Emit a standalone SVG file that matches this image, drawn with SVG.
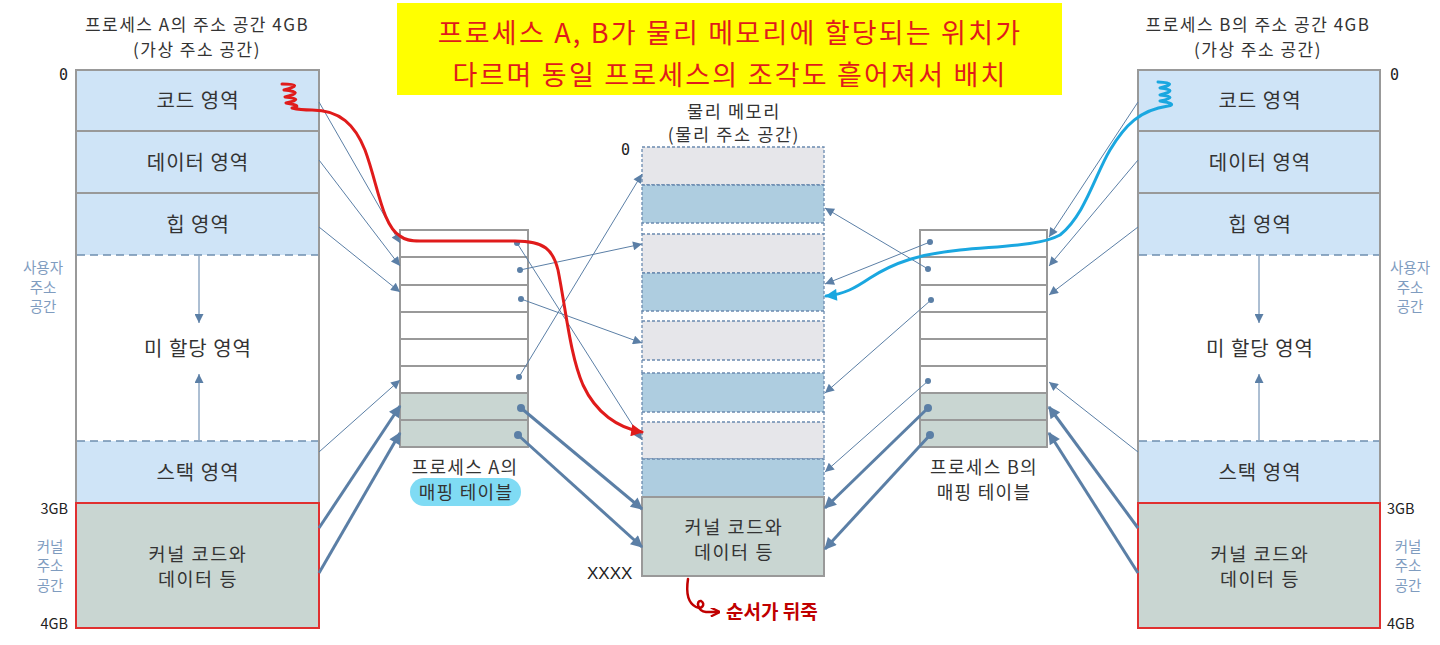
<svg xmlns="http://www.w3.org/2000/svg" width="1440" height="645" viewBox="0 0 1440 645">
<defs>
<style>
text{font-family:"Noto Sans CJK KR","Noto Sans",sans-serif;fill:#333}
.lbl{font-size:20px;letter-spacing:1px;text-anchor:middle}
.k{font-size:18.5px;letter-spacing:1.6px;text-anchor:middle}
.hdr{font-size:17px;letter-spacing:1.5px;text-anchor:middle}
.tbl{font-size:18px;letter-spacing:1.3px;text-anchor:middle}
.pml{font-size:17.5px;letter-spacing:1.6px;text-anchor:middle}
.side{font-size:14.5px;fill:#7f9cbf;text-anchor:middle}
.gb{font-size:14.5px;fill:#222}
.mono{font-family:"DejaVu Sans Mono","Liberation Mono",monospace;font-size:15px;fill:#222}
.title{font-size:27px;letter-spacing:2.2px;fill:#e01b1b;text-anchor:middle}
.col{stroke:#999;stroke-width:2}
.ua{fill:#cfe4f7}
.kern{fill:#c9d6d2}
.dash{stroke:#6f8fb0;stroke-width:1.5;stroke-dasharray:8 5}
.pm{stroke:#6b8bb0;stroke-width:1.3;stroke-dasharray:3 2}
.pg{fill:#e6e6ea}
.pb{fill:#aecde0}
.thin{stroke:#5b7fa6;stroke-width:1;fill:none}
.thick{stroke:#5b7fa6;stroke-width:3;fill:none}
.dot{fill:#5b7fa6}
</style>
<marker id="ah" viewBox="0 0 10 10" refX="10" refY="5" markerWidth="12" markerHeight="9" markerUnits="userSpaceOnUse" orient="auto"><path d="M0,0 L10,5 L0,10 z" fill="#5b7fa6"/></marker>
<marker id="ahT" viewBox="0 0 10 10" refX="9" refY="5" markerWidth="15" markerHeight="12" markerUnits="userSpaceOnUse" orient="auto"><path d="M0,0 L10,5 L0,10 z" fill="#5b7fa6"/></marker>
<marker id="ahR" viewBox="0 0 10 10" refX="9" refY="5" markerWidth="16" markerHeight="12" markerUnits="userSpaceOnUse" orient="auto"><path d="M0,0 L10,5 L0,10 z" fill="#e01b1b"/></marker>
<marker id="ahB" viewBox="0 0 10 10" refX="9" refY="5" markerWidth="16" markerHeight="12" markerUnits="userSpaceOnUse" orient="auto"><path d="M0,0 L10,5 L0,10 z" fill="#1aa7e0"/></marker>
<marker id="ahD" viewBox="0 0 10 10" refX="8" refY="5" markerWidth="10" markerHeight="9" markerUnits="userSpaceOnUse" orient="auto"><path d="M0,0 L10,5 L0,10" fill="none" stroke="#c00000" stroke-width="2.5"/></marker>
</defs>
<rect width="1440" height="645" fill="#fff"/>

<g id="title">
<rect x="397" y="3" width="665" height="92" fill="#ffff00"/>
<text class="title" x="730" y="43">프로세스 A, B가 물리 메모리에 할당되는 위치가</text>
<text class="title" x="730" y="85">다르며 동일 프로세스의 조각도 흩어져서 배치</text>
</g>

<g id="processA">
<text class="hdr" x="197" y="31">프로세스 A의 주소 공간 4GB</text>
<text class="hdr" x="197" y="56">(가상 주소 공간)</text>
<text class="mono" x="59" y="80">0</text>
<rect class="ua" x="76" y="70" width="243" height="185"/>
<rect fill="#fff" x="76" y="255" width="243" height="186"/>
<rect class="ua" x="76" y="441" width="243" height="62"/>
<rect class="col" x="76" y="70" width="243" height="433" fill="none"/>
<line class="col" x1="76" y1="131" x2="319" y2="131"/>
<line class="col" x1="76" y1="193" x2="319" y2="193"/>
<line class="dash" x1="77" y1="255" x2="318" y2="255"/>
<line class="dash" x1="77" y1="441" x2="318" y2="441"/>
<rect class="kern" x="76" y="503" width="243" height="125" stroke="#e03030" stroke-width="2"/>
<line class="thin" x1="199" y1="256" x2="199" y2="323" stroke-width="1.5" marker-end="url(#ah)"/>
<line class="thin" x1="199" y1="440" x2="199" y2="374" stroke-width="1.5" marker-end="url(#ah)"/>
<text class="lbl" x="198" y="108">코드 영역</text>
<text class="lbl" x="198" y="170">데이터 영역</text>
<text class="lbl" x="198" y="232">힙 영역</text>
<text class="lbl" x="198" y="356">미 할당 영역</text>
<text class="lbl" x="198" y="480">스택 영역</text>
<text class="k" x="198" y="561">커널 코드와</text>
<text class="k" x="198" y="586">데이터 등</text>
<text class="side" x="43" y="273">사용자</text>
<text class="side" x="43" y="293">주소</text>
<text class="side" x="43" y="312">공간</text>
<text class="gb" x="68" y="514" text-anchor="end">3GB</text>
<text class="side" x="50" y="552">커널</text>
<text class="side" x="50" y="571">주소</text>
<text class="side" x="50" y="591">공간</text>
<text class="gb" x="68" y="629" text-anchor="end">4GB</text>
</g>

<g id="processB">
<text class="hdr" x="1258" y="31">프로세스 B의 주소 공간 4GB</text>
<text class="hdr" x="1258" y="56">(가상 주소 공간)</text>
<text class="mono" x="1390" y="80">0</text>
<rect class="ua" x="1138" y="70" width="242" height="185"/>
<rect fill="#fff" x="1138" y="255" width="242" height="186"/>
<rect class="ua" x="1138" y="441" width="242" height="62"/>
<rect class="col" x="1138" y="70" width="242" height="433" fill="none"/>
<line class="col" x1="1138" y1="131" x2="1380" y2="131"/>
<line class="col" x1="1138" y1="193" x2="1380" y2="193"/>
<line class="dash" x1="1139" y1="255" x2="1379" y2="255"/>
<line class="dash" x1="1139" y1="441" x2="1379" y2="441"/>
<rect class="kern" x="1138" y="503" width="242" height="125" stroke="#e03030" stroke-width="2"/>
<line class="thin" x1="1259" y1="256" x2="1259" y2="323" stroke-width="1.5" marker-end="url(#ah)"/>
<line class="thin" x1="1259" y1="440" x2="1259" y2="374" stroke-width="1.5" marker-end="url(#ah)"/>
<text class="lbl" x="1260" y="108">코드 영역</text>
<text class="lbl" x="1260" y="170">데이터 영역</text>
<text class="lbl" x="1260" y="232">힙 영역</text>
<text class="lbl" x="1260" y="356">미 할당 영역</text>
<text class="lbl" x="1260" y="480">스택 영역</text>
<text class="k" x="1260" y="561">커널 코드와</text>
<text class="k" x="1260" y="586">데이터 등</text>
<text class="side" x="1410" y="273">사용자</text>
<text class="side" x="1410" y="293">주소</text>
<text class="side" x="1410" y="312">공간</text>
<text class="gb" x="1387" y="514">3GB</text>
<text class="side" x="1408" y="552">커널</text>
<text class="side" x="1408" y="571">주소</text>
<text class="side" x="1408" y="591">공간</text>
<text class="gb" x="1387" y="629">4GB</text>
</g>

<g id="tableA">
<rect x="400" y="230" width="128" height="163" fill="#fff"/>
<rect class="kern" x="400" y="393" width="128" height="54"/>
<rect class="col" x="400" y="230" width="128" height="217" fill="none"/>
<path class="col" d="M400,257H528M400,285H528M400,312H528M400,339H528M400,366H528M400,393H528M400,420H528"/>
<text class="tbl" x="465" y="474">프로세스 A의</text>
<rect x="410" y="478" width="111" height="28" rx="14" fill="#7fdbf4"/>
<text class="tbl" x="466" y="499">매핑 테이블</text>
</g>

<g id="tableB">
<rect x="920" y="230" width="127" height="163" fill="#fff"/>
<rect class="kern" x="920" y="393" width="127" height="54"/>
<rect class="col" x="920" y="230" width="127" height="217" fill="none"/>
<path class="col" d="M920,257H1047M920,285H1047M920,312H1047M920,339H1047M920,366H1047M920,393H1047M920,420H1047"/>
<text class="tbl" x="984" y="474">프로세스 B의</text>
<text class="tbl" x="984" y="499">매핑 테이블</text>
</g>

<g id="physical">
<text class="pml" x="734" y="118">물리 메모리</text>
<text class="pml" x="734" y="141">(물리 주소 공간)</text>
<text class="mono" x="621" y="155">0</text>
<rect class="pg pm" x="642" y="147" width="182" height="38"/>
<rect class="pb pm" x="642" y="185" width="182" height="38"/>
<rect class="pg pm" x="642" y="234" width="182" height="39"/>
<rect class="pb pm" x="642" y="273" width="182" height="38"/>
<rect class="pg pm" x="642" y="321" width="182" height="39"/>
<rect class="pb pm" x="642" y="373" width="182" height="39"/>
<rect class="pg pm" x="642" y="422" width="182" height="37"/>
<rect class="pb pm" x="642" y="459" width="182" height="38"/>
<path class="pm" fill="none" d="M642,223V234M824,223V234M642,311V321M824,311V321M642,360V373M824,360V373M642,412V422M824,412V422"/>
<rect class="kern" x="642" y="497" width="182" height="79" stroke="#999" stroke-width="2"/>
<text class="k" x="734" y="534">커널 코드와</text>
<text class="k" x="734" y="559">데이터 등</text>
<text x="587" y="579" style="font-family:'Liberation Sans',sans-serif;font-size:17px;fill:#222">XXXX</text>
</g>

<g id="connectors">
<line class="thin" x1="319" y1="102" x2="400" y2="243" marker-end="url(#ah)"/>
<line class="thin" x1="319" y1="160" x2="400" y2="266" marker-end="url(#ah)"/>
<line class="thin" x1="319" y1="227" x2="400" y2="292" marker-end="url(#ah)"/>
<line class="thin" x1="319" y1="452" x2="400" y2="380" marker-end="url(#ah)"/>
<line class="thick" x1="319" y1="528" x2="400" y2="406" marker-end="url(#ahT)"/>
<line class="thick" x1="319" y1="573" x2="400" y2="433" marker-end="url(#ahT)"/>
<circle class="dot" cx="517" cy="243" r="3"/>
<line class="thin" x1="517" y1="243" x2="642" y2="440" marker-end="url(#ah)"/>
<circle class="dot" cx="520" cy="270" r="3"/>
<line class="thin" x1="520" y1="270" x2="642" y2="244" marker-end="url(#ah)"/>
<circle class="dot" cx="521" cy="299" r="3"/>
<line class="thin" x1="521" y1="299" x2="642" y2="343" marker-end="url(#ah)"/>
<circle class="dot" cx="519" cy="377" r="3"/>
<line class="thin" x1="519" y1="377" x2="642" y2="174" marker-end="url(#ah)"/>
<circle class="dot" cx="521" cy="408" r="4"/>
<line class="thick" x1="521" y1="408" x2="642" y2="509" marker-end="url(#ahT)"/>
<circle class="dot" cx="518" cy="435" r="4"/>
<line class="thick" x1="518" y1="435" x2="642" y2="547" marker-end="url(#ahT)"/>
<circle class="dot" cx="930" cy="242" r="3"/>
<line class="thin" x1="930" y1="242" x2="825" y2="284" marker-end="url(#ah)"/>
<circle class="dot" cx="928" cy="269" r="3"/>
<line class="thin" x1="928" y1="269" x2="825" y2="208" marker-end="url(#ah)"/>
<circle class="dot" cx="931" cy="300" r="3"/>
<line class="thin" x1="931" y1="300" x2="825" y2="393" marker-end="url(#ah)"/>
<circle class="dot" cx="928" cy="381" r="3"/>
<line class="thin" x1="928" y1="381" x2="825" y2="472" marker-end="url(#ah)"/>
<circle class="dot" cx="928" cy="408" r="4"/>
<line class="thick" x1="928" y1="408" x2="825" y2="508" marker-end="url(#ahT)"/>
<circle class="dot" cx="930" cy="435" r="4"/>
<line class="thick" x1="930" y1="435" x2="825" y2="549" marker-end="url(#ahT)"/>
<line class="thin" x1="1138" y1="102" x2="1049" y2="237" marker-end="url(#ah)"/>
<line class="thin" x1="1138" y1="160" x2="1049" y2="266" marker-end="url(#ah)"/>
<line class="thin" x1="1138" y1="227" x2="1049" y2="295" marker-end="url(#ah)"/>
<line class="thin" x1="1138" y1="452" x2="1049" y2="382" marker-end="url(#ah)"/>
<line class="thick" x1="1138" y1="528" x2="1049" y2="407" marker-end="url(#ahT)"/>
<line class="thick" x1="1138" y1="573" x2="1049" y2="433" marker-end="url(#ahT)"/>
<path fill="none" stroke="#e01b1b" stroke-width="3" stroke-linecap="round" stroke-linejoin="round" marker-end="url(#ahR)" d="M282,84 Q306,84 284,90 Q306,92 285,97 Q306,99 286,103 Q304,106 292,108 C300,110 305,110 312,110 C340,110 355,125 365,150 C378,185 382,225 400,236 C405,240 410,241 420,241 L515,241 C545,241 553,250 558,270 C566,310 570,355 583,385 C596,413 618,428 642,432"/>
<path fill="none" stroke="#1aa7e0" stroke-width="3" stroke-linecap="round" stroke-linejoin="round" marker-end="url(#ahB)" d="M1158,82 Q1180,83 1160,88 Q1180,90 1160,95 Q1180,97 1160,101 Q1178,104 1168,106 C1140,110 1125,125 1110,150 C1095,175 1085,215 1060,235 C1040,246 1000,246 960,250 C920,254 895,262 870,278 C855,288 845,294 826,296"/>
<path fill="none" stroke="#c00000" stroke-width="2.5" stroke-linecap="round" marker-end="url(#ahD)" d="M688,579 C686,592 688,603 696,607 C702,610 706,604 701,601 C696,600 697,611 706,612 L718,612"/>
</g>
<text x="726" y="619" style="font-size:19px;font-weight:bold;fill:#c00000">순서가 뒤죽</text>
</svg>
